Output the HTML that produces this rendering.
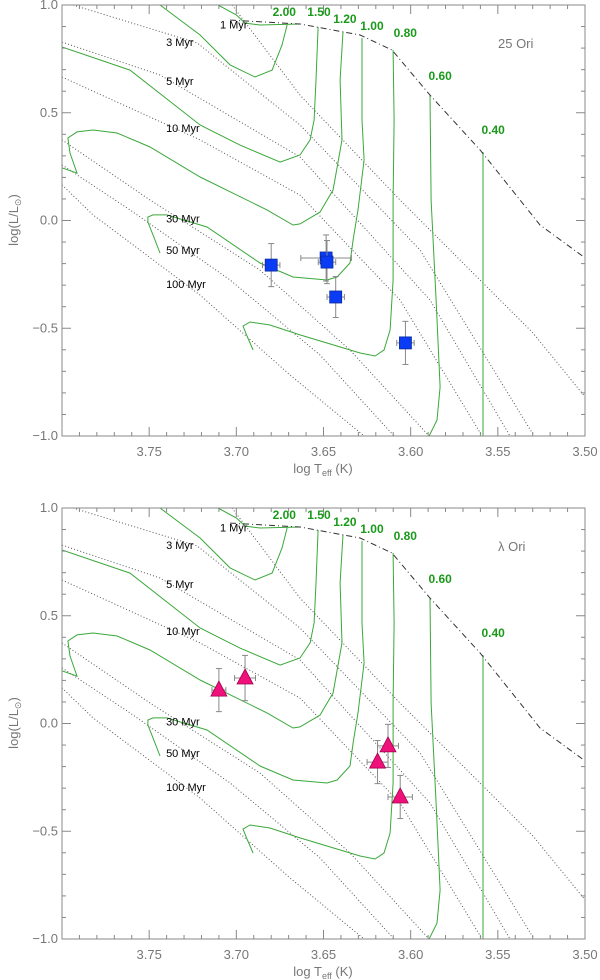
<!DOCTYPE html>
<html><head><meta charset="utf-8"><style>
html,body{margin:0;padding:0;background:#fff;}
svg{display:block;font-family:"Liberation Sans",sans-serif;}
</style></head><body>
<svg id="chart" width="600" height="980" viewBox="0 0 600 980" xmlns="http://www.w3.org/2000/svg"></svg>
<script>
// ---- data (logTeff, logL) ----
const xTicks = [3.75, 3.70, 3.65, 3.60, 3.55, 3.50];
const xTickLabels = ["3.75","3.70","3.65","3.60","3.55","3.50"];
const yTicks = [1.0, 0.5, 0.0, -0.5, -1.0];
const yTickLabels = ["1.0","0.5","0.0","\u22120.5","\u22121.0"];

const zamsT = [3.7036,3.6635,3.629,3.6107,3.5889,3.5602,3.5258,3.4999];
const zamsL = [0.930,0.912,0.861,0.791,0.582,0.327,-0.021,-0.174];

const trackNames = ["2.00","2.00b","1.50","1.20","1.00","0.80","0.60","0.40"];
const trackT = [
 [3.7438,3.7208,3.7036,3.6893,3.6795,3.6738,3.6709],
 [3.7105,3.70,3.695,3.6864,3.6635],
 [3.6531,3.6543,3.6554,3.6577,3.6635,3.6749,3.6979,3.7208,3.761,3.80],
 [3.6388,3.6405,3.6394,3.6445,3.652,3.6635,3.6675,3.6824,3.7208,3.7495,3.7684,3.7822,3.7914,3.7966,3.7954,3.7914,3.80],
 [3.6279,3.6279,3.6267,3.6302,3.633,3.6348,3.6422,3.648,3.6675,3.6864,3.7168,3.7398,3.7478,3.7507,3.7507,3.7478,3.7438],
 [3.6101,3.6095,3.6101,3.6101,3.6118,3.6153,3.6204,3.629,3.6635,3.6807,3.6921,3.6962,3.6939,3.6904],
 [3.5889,3.5883,3.5854,3.5831,3.5849,3.5894],
 [3.5585,3.5585]
];
const trackL = [
 [1.0,0.861,0.722,0.666,0.698,0.814,0.907],
 [1.0,0.954,0.916,0.907,0.912],
 [0.898,0.652,0.466,0.374,0.304,0.271,0.350,0.443,0.698,0.805],
 [0.875,0.652,0.374,0.142,0.039,-0.016,-0.021,0.049,0.202,0.341,0.406,0.420,0.411,0.383,0.313,0.220,0.244],
 [0.847,0.466,0.281,0.049,-0.090,-0.197,-0.262,-0.276,-0.262,-0.197,-0.030,0.026,0.026,0.016,-0.007,-0.067,-0.151],
 [0.791,0.466,0.095,-0.276,-0.508,-0.601,-0.629,-0.615,-0.531,-0.485,-0.471,-0.490,-0.536,-0.601],
 [0.582,0.095,-0.369,-0.773,-0.926,-1.0],
 [0.318,-1.0]
];
const massLabels = ["2.00","1.50","1.20","1.00","0.80","0.60","0.40"];
const massLabelT = [3.6725,3.6526,3.6377,3.6222,3.6031,3.5831,3.5527];
const massLabelL = [0.968,0.968,0.935,0.903,0.870,0.670,0.420];

const isoNames = ["1 Myr","3 Myr","5 Myr","10 Myr","30 Myr","50 Myr","100 Myr"];
const isoT = [
 [3.7025,3.6635,3.6061,3.5298,3.4999],
 [3.7937,3.7225,3.6635,3.5946,3.5292],
 [3.80,3.7438,3.6635,3.5889,3.543],
 [3.80,3.7208,3.6635,3.6061,3.559],
 [3.80,3.7495,3.6864,3.6348,3.5894],
 [3.80,3.761,3.7036,3.652,3.6095],
 [3.80,3.7822,3.7208,3.6692,3.6267]
];
const isoL = [
 [1.0,0.582,0.095,-0.522,-0.819],
 [1.0,0.824,0.443,-0.137,-1.0],
 [0.828,0.675,0.295,-0.369,-1.0],
 [0.666,0.374,0.118,-0.369,-1.0],
 [0.374,0.095,-0.230,-0.601,-1.0],
 [0.258,0.049,-0.276,-0.624,-1.0],
 [0.165,0.026,-0.346,-0.717,-1.0]
];
const isoLabelT = [3.7094,3.7403,3.7403,3.7403,3.7403,3.7403,3.7403];
const isoLabelL = [0.910,0.828,0.648,0.430,0.010,-0.138,-0.295];

const ori25T = [3.680,3.6485,3.648,3.643,3.603];
const ori25L = [-0.207,-0.174,-0.193,-0.355,-0.568];
const ori25ET = [0.005,0.0145,0.005,0.005,0.005];
const ori25EL = [0.10,0.107,0.10,0.095,0.10];

const lamT = [3.710,3.695,3.613,3.619,3.606];
const lamL = [0.155,0.211,-0.104,-0.179,-0.341];
const lamET = [0.004,0.006,0.006,0.006,0.007];
const lamEL = [0.10,0.105,0.10,0.10,0.10];

// ---- drawing ----
const NS="http://www.w3.org/2000/svg";
const svg=document.getElementById('chart');
const X0=62,X1=585,TMAX=3.80,TMIN=3.50;
function xs(t){return X0+(TMAX-t)/(TMAX-TMIN)*(X1-X0);}
function mk(tag,attrs,parent){const e=document.createElementNS(NS,tag);for(const k in attrs)e.setAttribute(k,attrs[k]);(parent||svg).appendChild(e);return e;}

function panel(top, name, T, L, ET, EL, marker, label){
  const bot=top+431;
  const ys=l=>top+(1-l)/2*(bot-top);
  const g=mk('g',{});
  
  
  const clipId='clip'+top;
  const cp=mk('clipPath',{id:clipId},g);
  mk('rect',{x:X0,y:top,width:X1-X0,height:bot-top},cp);
  const pg=mk('g',{'clip-path':'url(#'+clipId+')'},g);
  const pts=(a,b)=>a.map((t,i)=>xs(t).toFixed(1)+','+ys(b[i]).toFixed(1)).join(' ');
  for(let i=0;i<isoT.length;i++){
    const p=mk('polyline',{points:pts(isoT[i],isoL[i]),fill:'none',stroke:'#555','stroke-width':1,'stroke-dasharray':'1,2.2'},pg);
    
    
  }
  for(let i=0;i<trackT.length;i++){
    const p=mk('polyline',{points:pts(trackT[i],trackL[i]),fill:'none',stroke:'#3aa83a','stroke-width':1},pg);
    
    
  }
  const z=mk('polyline',{points:pts(zamsT,zamsL),fill:'none',stroke:'#333','stroke-width':1,'stroke-dasharray':'6,3,1,3'},pg);
  
  
  const fr=mk('rect',{x:X0,y:top,width:X1-X0,height:bot-top,fill:'none',stroke:'#888','stroke-width':1},g);
  
  
  for(let k=0;k<=30;k++){
    const t=3.50+k*0.01; const x=xs(t); const major=(k%5===0);
    const len=major?9:4;
    mk('line',{x1:x,y1:bot,x2:x,y2:bot-len,stroke:'#888'},g);
    mk('line',{x1:x,y1:top,x2:x,y2:top+len,stroke:'#888'},g);
  }
  for(let i=0;i<xTicks.length;i++){
    const tx=mk('text',{x:xs(xTicks[i]),y:bot+20,'text-anchor':'middle','font-size':13,fill:'#777'},g);
    tx.textContent=xTickLabels[i];
    
    
  }
  for(let k=0;k<=20;k++){
    const l=-1+k*0.1; const y=ys(l); const major=(k%5===0);
    const len=major?9:4;
    mk('line',{x1:X0,y1:y,x2:X0+len,y2:y,stroke:'#888'},g);
    mk('line',{x1:X1,y1:y,x2:X1-len,y2:y,stroke:'#888'},g);
  }
  for(let i=0;i<yTicks.length;i++){
    const tx=mk('text',{x:X0-4,y:ys(yTicks[i])+4,'text-anchor':'end','font-size':13,fill:'#777'},g);
    tx.textContent=yTickLabels[i];
    
    
  }
  const xt=mk('text',{x:323,y:bot+37,'text-anchor':'middle','font-size':13,fill:'#777'},g);
  xt.innerHTML='log T<tspan font-size="9" dy="3">eff</tspan><tspan dy="-3"> (K)</tspan>';
  
  
  const yt=mk('text',{x:0,y:0,'text-anchor':'middle','font-size':13,fill:'#777',transform:'translate(18,'+(top+215)+') rotate(-90)'},g);
  yt.innerHTML='log(L/L<tspan font-size="9" dy="3">\u2299</tspan><tspan dy="-3">)</tspan>';
  
  
  for(let i=0;i<isoNames.length;i++){
    const tx=mk('text',{x:xs(isoLabelT[i]),y:ys(isoLabelL[i])+4,'font-size':11,fill:'#000'},g);
    tx.textContent=isoNames[i];
    
    
  }
  for(let i=0;i<massLabels.length;i++){
    const tx=mk('text',{x:xs(massLabelT[i]),y:ys(massLabelL[i])+4,'text-anchor':'middle','font-size':12,'font-weight':'bold',fill:'#1a9a1a'},g);
    tx.textContent=massLabels[i];
    
    
  }
  const lb=mk('text',{x:498,y:top+43,'font-size':13,fill:'#777'},g);
  lb.textContent=label;
  
  
  for(let i=0;i<T.length;i++){
    const cx=xs(T[i]), cy=ys(L[i]);
    const eg=mk('g',{stroke:'#888','stroke-width':1},g);
    
    
    const x1=xs(T[i]+ET[i]),x2=xs(T[i]-ET[i]),y1=ys(L[i]+EL[i]),y2=ys(L[i]-EL[i]);
    mk('line',{x1:x1,y1:cy,x2:x2,y2:cy},eg);
    mk('line',{x1:cx,y1:y1,x2:cx,y2:y2},eg);
    mk('line',{x1:x1,y1:cy-3,x2:x1,y2:cy+3},eg);
    mk('line',{x1:x2,y1:cy-3,x2:x2,y2:cy+3},eg);
    mk('line',{x1:cx-3,y1:y1,x2:cx+3,y2:y1},eg);
    mk('line',{x1:cx-3,y1:y2,x2:cx+3,y2:y2},eg);
    let m;
    if(marker==='square'){
      m=mk('rect',{x:cx-6,y:cy-6,width:12,height:12,fill:'#0a3cf5',stroke:'#0a2aa0','stroke-width':0.8},g);
    } else {
      m=mk('polygon',{points:(cx)+','+(cy-9)+' '+(cx-8)+','+(cy+6)+' '+(cx+8)+','+(cy+6),fill:'#f0107a',stroke:'#a00050','stroke-width':0.8},g);
    }
    
    
  }
}
panel(5,'25-ori',ori25T,ori25L,ori25ET,ori25EL,'square','25 Ori');
panel(508,'lambda-ori',lamT,lamL,lamET,lamEL,'triangle','\u03bb Ori');
</script>
</body></html>
